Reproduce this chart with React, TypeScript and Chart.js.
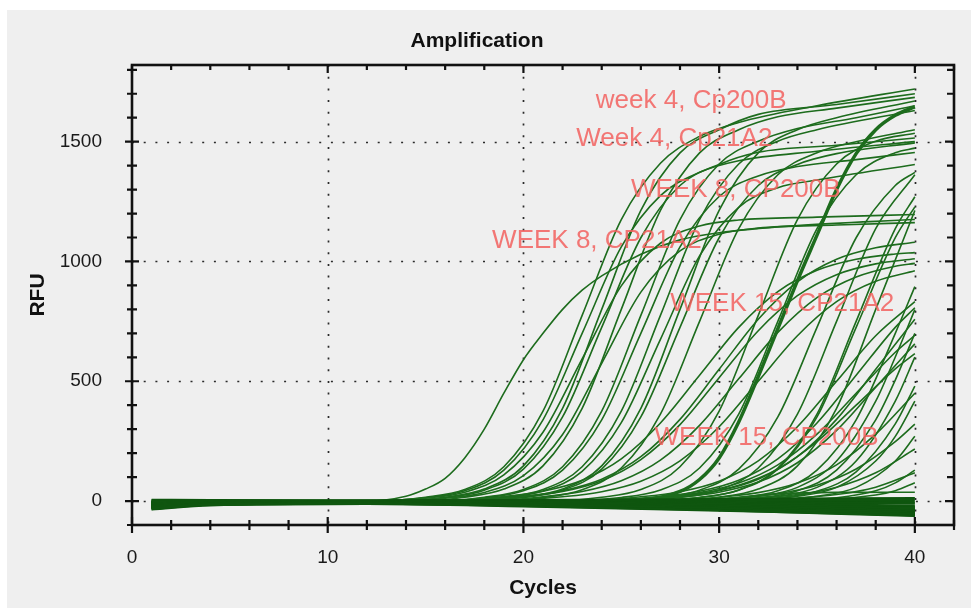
import { useEffect, useRef } from "react";
import { Chart, registerables } from "chart.js";

Chart.register(...registerables);

type Pt = [number, number];

const FONT = 'Arial, "Liberation Sans", Helvetica, sans-serif';

const xTicks = [0, 10, 20, 30, 40];
const yTicks = [0, 500, 1000, 1500];
const xMinorStep = 2;
const yMinorStep = 100;

// Week 4 curves (Cp200B / Cp21A2) - early, high plateau
const week4Curves: Pt[][] = [
  [[1, -25], [3, -8], [12, -2], [15, 16], [17, 48], [19, 143], [21, 375], [23, 775], [25, 1175], [27, 1410], [29, 1522], [31, 1580], [35, 1650], [40, 1720]],
  [[1, -10], [3, -4], [12, 0], [15, 14], [17, 43], [19, 129], [21, 339], [23, 700], [25, 1061], [27, 1275], [29, 1372], [31, 1420], [35, 1460], [40, 1500]],
  [[1, -18], [3, -6], [13, -1], [16, 16], [18, 50], [20, 147], [22, 387], [24, 800], [26, 1213], [28, 1453], [30, 1550], [32, 1614], [36, 1655], [40, 1700]],
  [[1, -8], [3, -3], [13, 0], [16, 15], [18, 45], [20, 133], [22, 351], [24, 725], [26, 1099], [28, 1317], [30, 1405], [32, 1456], [36, 1485], [40, 1515]],
  [[1, -22], [3, -9], [14, -2], [17, 16], [19, 50], [21, 147], [23, 387], [25, 800], [27, 1213], [29, 1453], [31, 1550], [33, 1604], [36, 1640], [40, 1685]],
  [[1, -12], [3, -5], [15, -1], [18, 16], [20, 48], [22, 143], [24, 375], [26, 775], [28, 1175], [30, 1407], [32, 1502], [34, 1555], [37, 1600], [40, 1650]],
  [[1, -28], [3, -10], [15, -3], [18, 14], [20, 43], [22, 129], [24, 339], [26, 700], [28, 1061], [30, 1271], [32, 1357], [34, 1396], [37, 1425], [40, 1455]],
  [[1, -15], [3, -6], [16, -1], [19, 16], [21, 48], [23, 143], [25, 375], [27, 775], [29, 1175], [31, 1407], [33, 1502], [35, 1550], [40, 1630]],
  [[1, -20], [3, -7], [16, -2], [19, 14], [21, 42], [23, 124], [25, 327], [27, 675], [29, 1023], [31, 1226], [33, 1308], [35, 1340], [40, 1405]],
  [[1, -6], [3, -2], [17, 0], [20, 16], [22, 50], [24, 147], [26, 387], [28, 800], [30, 1213], [32, 1453], [34, 1550], [36, 1600], [40, 1670]],
  [[1, -24], [3, -9], [18, -3], [21, 15], [23, 47], [25, 138], [27, 363], [29, 750], [31, 1137], [33, 1362], [35, 1454], [37, 1500], [40, 1550]],
  [[1, -14], [3, -5], [17, -1], [20, 15], [22, 45], [24, 133], [26, 351], [28, 725], [30, 1099], [32, 1317], [34, 1405], [36, 1450], [40, 1495]],
];

// Week 8, CP21A2 - early, lower plateau
const week8Cp21a2Curves: Pt[][] = [
  [[1, -5], [4, -2], [12, 0], [14, 20], [15, 50], [16, 95], [17, 180], [18, 300], [19, 450], [20, 590], [21, 700], [22, 800], [23, 880], [24, 940], [26, 1030], [28, 1090], [30, 1120], [34, 1150], [40, 1175]],
  [[1, -16], [3, -6], [12, -1], [15, 12], [17, 37], [19, 109], [21, 287], [23, 593], [25, 898], [27, 1076], [29, 1148], [31, 1173], [35, 1185], [40, 1196]],
  [[1, -9], [3, -3], [13, 0], [16, 12], [18, 36], [20, 106], [22, 278], [24, 575], [26, 872], [28, 1044], [30, 1114], [32, 1139], [36, 1152], [40, 1162]],
];

// Week 8, CP200B - mid, moderate slope
const week8Cp200bCurves: Pt[][] = [
  [[1, -12], [4, -5], [16, -2], [20, 20], [22, 43], [24, 91], [26, 185], [28, 341], [30, 550], [32, 759], [34, 915], [36, 1009], [38, 1057], [40, 1080]],
  [[1, -20], [4, -8], [15, -3], [19, 19], [21, 41], [23, 87], [25, 176], [27, 326], [29, 525], [31, 725], [33, 874], [35, 963], [37, 1009], [39, 1031], [40, 1037]],
  [[1, -4], [4, -1], [16, 0], [20, 19], [22, 40], [24, 85], [26, 173], [28, 319], [30, 515], [32, 711], [34, 857], [36, 945], [38, 990], [40, 1011]],
  [[1, -26], [4, -10], [17, -4], [21, 18], [23, 40], [25, 85], [27, 171], [29, 316], [31, 510], [33, 704], [35, 849], [37, 935], [39, 980], [40, 992]],
  [[1, -17], [4, -7], [18, -3], [22, 18], [24, 39], [26, 83], [28, 168], [30, 310], [32, 500], [34, 690], [36, 832], [38, 917], [40, 961]],
];

// Week 15, CP21A2 - late, steep
const week15Cp21a2Thick: Pt[] = [[1, -15], [4, -6], [20, -2], [26, 5], [28, 40], [29, 90], [30, 180], [31, 330], [32, 520], [33, 720], [34, 920], [35, 1110], [36, 1300], [37, 1450], [38, 1550], [39, 1610], [40, 1645]];
const week15Cp21a2Curves: Pt[][] = [
  [[1, -30], [4, -12], [20, -5], [24, 16], [26, 48], [28, 143], [30, 375], [32, 775], [34, 1175], [36, 1407], [38, 1502], [40, 1535]],
  [[1, -7], [4, -3], [21, -1], [25, 15], [27, 46], [29, 138], [31, 363], [33, 750], [35, 1137], [37, 1362], [39, 1454], [40, 1473]],
  [[1, -19], [4, -8], [22, -4], [27, 15], [29, 45], [31, 133], [33, 351], [35, 725], [37, 1099], [39, 1317], [40, 1372]],
  [[1, -11], [4, -4], [23, -2], [28, 15], [30, 46], [32, 138], [34, 363], [36, 750], [38, 1137], [40, 1362]],
  [[1, -23], [4, -9], [24, -5], [29, 15], [31, 46], [33, 138], [35, 363], [37, 750], [39, 1137], [40, 1270]],
  [[1, -3], [4, -1], [24, 0], [29, 15], [31, 45], [33, 133], [35, 351], [37, 725], [39, 1099], [40, 1228]],
  [[1, -27], [4, -11], [25, -6], [30, 16], [32, 50], [34, 147], [36, 387], [38, 800], [40, 1213]],
  [[1, -13], [4, -5], [26, -3], [31, 14], [33, 43], [35, 129], [37, 339], [39, 700], [40, 895]],
  [[1, -21], [4, -8], [27, -5], [32, 20], [34, 57], [36, 167], [38, 417], [39, 601], [40, 799]],
  [[1, -9], [4, -3], [27, -2], [32, 14], [34, 43], [36, 129], [38, 339], [39, 505], [40, 700]],
  [[1, -25], [4, -10], [28, -6], [33, 20], [35, 57], [37, 167], [39, 417], [40, 601]],
  [[1, -6], [4, -2], [28, -2], [33, 14], [35, 41], [37, 122], [39, 322], [40, 480]],
  [[1, -18], [4, -7], [29, -5], [34, 20], [36, 57], [38, 167], [39, 270], [40, 417]],
  [[1, -10], [4, -4], [30, -3], [35, 20], [37, 57], [39, 167], [40, 270]],
  [[1, -22], [4, -9], [31, -6], [36, 14], [38, 43], [39, 76], [40, 129]],
  [[1, -14], [4, -6], [32, -4], [38, 25], [39, 43], [40, 76]],
];

// Week 15, CP200B - late, moderate
const week15Cp200bCurves: Pt[][] = [
  [[1, -16], [4, -6], [22, -3], [26, 18], [28, 39], [30, 83], [32, 168], [34, 310], [36, 500], [38, 690], [40, 832]],
  [[1, -8], [4, -3], [23, -1], [27, 19], [29, 41], [31, 87], [33, 176], [35, 326], [37, 525], [39, 725], [40, 807]],
  [[1, -24], [4, -10], [24, -5], [28, 20], [30, 43], [32, 91], [34, 185], [36, 341], [38, 550], [40, 759]],
  [[1, -12], [4, -5], [23, -2], [27, 16], [29, 35], [31, 75], [33, 151], [35, 279], [37, 450], [39, 621], [40, 692]],
  [[1, -20], [4, -8], [24, -4], [28, 17], [30, 37], [32, 79], [34, 160], [36, 295], [38, 475], [40, 656]],
  [[1, -5], [4, -2], [23, 0], [27, 14], [29, 31], [31, 66], [33, 134], [35, 248], [37, 400], [39, 552], [40, 615]],
  [[1, -26], [4, -11], [26, -6], [30, 16], [32, 35], [34, 75], [36, 151], [38, 279], [40, 450]],
  [[1, -11], [4, -4], [27, -3], [31, 14], [33, 31], [35, 66], [37, 134], [39, 248], [40, 321]],
  [[1, -17], [4, -7], [28, -5], [32, 13], [34, 27], [36, 58], [38, 118], [40, 217]],
  [[1, -7], [4, -3], [30, -2], [34, 13], [36, 27], [38, 58], [40, 118]],
  [[1, -10], [4, -4], [20, 0], [30, 10], [33, 30], [36, 36], [40, 37]],
];

// Non-amplifying wells (baseline drift)
const baselineCurves: Pt[][] = [
  [[1, -30], [4, -15], [12, -10], [20, -20], [30, -38], [40, -62]],
  [[1, -25], [4, -12], [12, -8], [20, -15], [30, -30], [40, -55]],
  [[1, -20], [4, -10], [12, -5], [20, -12], [30, -25], [40, -48]],
  [[1, -15], [4, -8], [12, -4], [20, -8], [30, -18], [40, -40]],
  [[1, -10], [4, -5], [12, -3], [20, -5], [30, -12], [40, -30]],
  [[1, -5], [4, -3], [12, -2], [20, -3], [30, -8], [40, -20]],
  [[1, 0], [4, 0], [12, 0], [20, -2], [30, -4], [40, -10]],
  [[1, 5], [4, 3], [12, 2], [20, 2], [30, 3], [40, 5]],
  [[1, -35], [4, -18], [12, -12], [20, -22], [30, -40], [40, -58]],
  [[1, -28], [4, -10], [12, -6], [20, -10], [30, -22], [40, -35]],
  [[1, -33], [4, -16], [12, -11], [20, -18], [30, -34], [40, -60]],
  [[1, -22], [4, -11], [12, -7], [20, -14], [30, -28], [40, -52]],
  [[1, -18], [4, -9], [12, -5], [20, -10], [30, -20], [40, -44]],
  [[1, -12], [4, -6], [12, -3], [20, -6], [30, -15], [40, -36]],
  [[1, -8], [4, -4], [12, -2], [20, -4], [30, -10], [40, -25]],
  [[1, 2], [4, 1], [12, 0], [20, 0], [30, -1], [40, -4]],
  [[1, -3], [4, -1], [12, 0], [20, 3], [30, 8], [40, 12]],
  [[1, -26], [4, -13], [12, -9], [20, -17], [30, -33], [40, -50]],
];

const annotationTexts = ["week 4, Cp200B", "Week 4, Cp21A2", "WEEK 8, CP200B", "WEEK 8, CP21A2", "WEEK 15, CP21A2", "WEEK 15, CP200B"];
const annotationCycles = [23.7, 22.7, 25.5, 18.4, 27.5, 26.7];
const annotationRfu = [1670, 1511, 1298, 1085, 822, 263];

const LINE_COLOR = "#1d6c1d";

export default function App() {
  const ref = useRef<HTMLCanvasElement>(null);

  useEffect(() => {
    const canvas = ref.current;
    if (!canvas) return;

    const toData = (c: Pt[]) => c.map(([x, y]) => ({ x, y }));
    const mk = (c: Pt[], w = 1.6, color = LINE_COLOR) => ({
      data: toData(c),
      borderColor: color,
      borderWidth: w,
      pointRadius: 0,
      fill: false,
      cubicInterpolationMode: "monotone" as const,
    });

    const datasets: any[] = [];
    baselineCurves.forEach((c) => datasets.push(mk(c, 2.4, "#0f560f")));
    week15Cp200bCurves.forEach((c) => datasets.push(mk(c)));
    week15Cp21a2Curves.forEach((c) => datasets.push(mk(c)));
    week8Cp200bCurves.forEach((c) => datasets.push(mk(c)));
    week8Cp21a2Curves.forEach((c) => datasets.push(mk(c)));
    week4Curves.forEach((c) => datasets.push(mk(c)));
    datasets.push(mk(week15Cp21a2Thick, 3.5));

    const bgPlugin = {
      id: "bg",
      beforeDraw(chart: any) {
        const { ctx, width, height } = chart;
        ctx.save();
        ctx.fillStyle = "#ffffff";
        ctx.fillRect(0, 0, width, height);
        ctx.fillStyle = "#efefef";
        ctx.fillRect(7, 10, width - 7, height - 10);
        ctx.restore();
      },
    };

    const gridPlugin = {
      id: "dotgrid",
      beforeDatasetsDraw(chart: any) {
        const { ctx, chartArea: a, scales } = chart;
        const x = scales.x, y = scales.y;
        ctx.save();
        ctx.strokeStyle = "#2a2a2a";
        ctx.lineWidth = 1.7;
        ctx.setLineDash([2, 9.7]);
        xTicks.filter((v) => v > 0).forEach((v) => {
          const px = Math.round(x.getPixelForValue(v)) + 0.5;
          ctx.beginPath();
          ctx.moveTo(px, a.top);
          ctx.lineTo(px, a.bottom);
          ctx.stroke();
        });
        yTicks.forEach((v) => {
          const py = Math.round(y.getPixelForValue(v)) + 0.5;
          ctx.beginPath();
          ctx.moveTo(a.left, py);
          ctx.lineTo(a.right, py);
          ctx.stroke();
        });
        ctx.restore();
      },
      afterDatasetsDraw(chart: any) {
        const { ctx, chartArea: a, scales } = chart;
        const x = scales.x, y = scales.y;
        ctx.save();
        // annotations
        ctx.font = `26px ${FONT}`;
        ctx.fillStyle = "rgba(242, 96, 94, 0.85)";
        ctx.textAlign = "left";
        ctx.textBaseline = "middle";
        annotationTexts.forEach((t, i) => {
          ctx.fillText(t, x.getPixelForValue(annotationCycles[i]), y.getPixelForValue(annotationRfu[i]));
        });
        // frame
        ctx.strokeStyle = "#111";
        ctx.lineWidth = 2.6;
        ctx.strokeRect(a.left, a.top, a.right - a.left, a.bottom - a.top);
        ctx.lineWidth = 2.2;
        // x ticks (bottom crossing, top inward)
        for (let v = x.min; v <= x.max + 1e-6; v += xMinorStep) {
          const major = xTicks.includes(v);
          const px = x.getPixelForValue(v);
          const h = major ? 8 : 5;
          ctx.beginPath();
          ctx.moveTo(px, a.bottom - h);
          ctx.lineTo(px, a.bottom + h);
          ctx.moveTo(px, a.top);
          ctx.lineTo(px, a.top + h);
          ctx.stroke();
        }
        // y ticks (left crossing, right inward)
        for (let v = -100; v <= y.max + 1e-6; v += yMinorStep) {
          const major = yTicks.includes(v);
          const py = y.getPixelForValue(v);
          const w = major ? 7 : 5;
          ctx.beginPath();
          ctx.moveTo(a.left - w, py);
          ctx.lineTo(a.left + w, py);
          ctx.moveTo(a.right, py);
          ctx.lineTo(a.right - (major ? 9 : 7), py);
          ctx.stroke();
        }
        ctx.restore();
      },
    };

    const chart = new Chart(canvas, {
      type: "line",
      data: { datasets },
      options: {
        animation: false,
        responsive: false,
        devicePixelRatio: 1,
        events: [],
        layout: { padding: { left: 0, right: 17, top: 0, bottom: 0 } },
        plugins: {
          legend: { display: false },
          tooltip: { enabled: false },
          title: {
            display: true,
            text: "Amplification",
            color: "#111",
            font: { family: FONT, size: 21, weight: "bold", lineHeight: 1.2 },
            padding: { top: 28.4, bottom: 11.4 },
          },
        },
        scales: {
          x: {
            type: "linear",
            min: 0,
            max: 42,
            grid: { display: false },
            border: { display: false },
            afterBuildTicks: (s: any) => {
              s.ticks = xTicks.map((v) => ({ value: v }));
            },
            afterFit: (s: any) => {
              s.height = 83;
            },
            ticks: {
              font: { family: FONT, size: 19 },
              color: "#1a1a1a",
              padding: 13.5,
              maxRotation: 0,
              autoSkip: false,
              callback: (v: any) => String(v),
            },
            title: {
              display: true,
              text: "Cycles",
              color: "#111",
              font: { family: FONT, size: 21, weight: "bold", lineHeight: 1.2 },
              padding: { top: 0, bottom: 7.4 },
            },
          },
          y: {
            type: "linear",
            min: -100,
            max: 1820,
            grid: { display: false },
            border: { display: false },
            afterBuildTicks: (s: any) => {
              s.ticks = yTicks.map((v) => ({ value: v }));
            },
            afterFit: (s: any) => {
              s.width = 132;
            },
            ticks: {
              font: { family: FONT, size: 19 },
              color: "#1a1a1a",
              padding: 22,
              autoSkip: false,
              callback: (v: any) => String(v),
            },
            title: {
              display: true,
              text: "RFU",
              color: "#111",
              font: { family: FONT, size: 21, weight: "bold", lineHeight: 1.2 },
              padding: { top: 25.4, bottom: 0 },
            },
          },
        },
      },
      plugins: [bgPlugin, gridPlugin],
    });

    return () => chart.destroy();
  }, []);

  return (
    <div style={{ position: "fixed", left: 0, top: 0, width: 971, height: 608 }}>
      <canvas ref={ref} width={971} height={608} style={{ display: "block", width: 971, height: 608 }} />
    </div>
  );
}
